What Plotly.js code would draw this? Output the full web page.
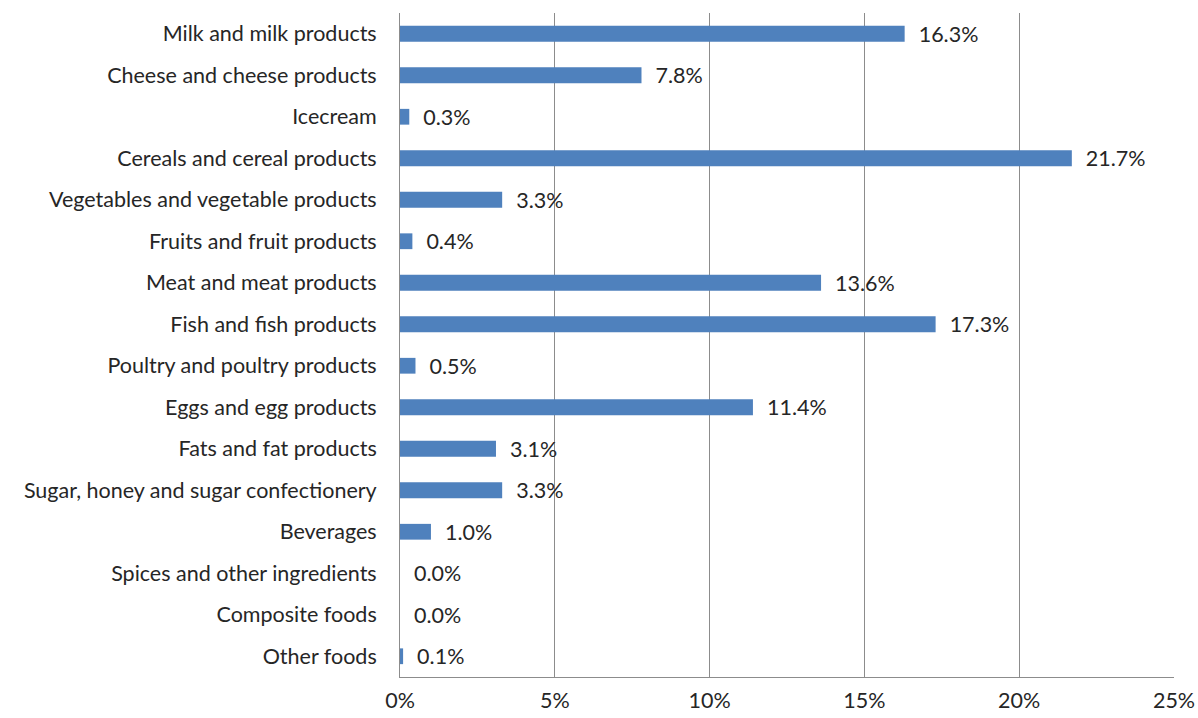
<!DOCTYPE html>
<html>
<head>
<meta charset="utf-8">
<script src="https://cdn.plot.ly/plotly-3.0.1.min.js"></script>
<style>html,body{margin:0;padding:0;background:#fff;}#chart{width:1198px;height:718px;}</style>
</head>
<body>
<div id="chart"></div>
<script>
const categories = [
  "Milk and milk products",
  "Cheese and cheese products",
  "Icecream",
  "Cereals and cereal products",
  "Vegetables and vegetable products",
  "Fruits and fruit products",
  "Meat and meat products",
  "Fish and fish products",
  "Poultry and poultry products",
  "Eggs and egg products",
  "Fats and fat products",
  "Sugar, honey and sugar confectionery",
  "Beverages",
  "Spices and other ingredients",
  "Composite foods",
  "Other foods"
];
const values = [16.3, 7.8, 0.3, 21.7, 3.3, 0.4, 13.6, 17.3, 0.5, 11.4, 3.1, 3.3, 1.0, 0.0, 0.0, 0.1];
const tickVals = [0, 5, 10, 15, 20, 25];
const tickText = ["0%", "5%", "10%", "15%", "20%", "25%"];

const fontFam = "Lato, 'Open Sans', sans-serif";
const fs = 21.5;
const trace = {
  type: "bar",
  orientation: "h",
  y: categories,
  x: values,
  width: 0.38,
  marker: {color: "#4F81BD", line: {width: 0}},
  text: values.map(v => "\u00a0\u00a0" + v.toFixed(1) + "%"),
  textposition: "outside",
  constraintext: "none",
  cliponaxis: false,
  textfont: {family: fontFam, size: fs, color: "#262626"},
  hoverinfo: "skip"
};
const layout = {
  width: 1198, height: 718,
  margin: {l: 400, r: 24, t: 13, b: 41},
  paper_bgcolor: "#fff", plot_bgcolor: "#fff",
  showlegend: false,
  font: {family: fontFam, size: fs, color: "#262626"},
  xaxis: {
    range: [0, 25], tickvals: tickVals, ticktext: tickText,
    showgrid: true, gridcolor: "#8c8c8c", gridwidth: 1,
    zeroline: false, showline: true, linecolor: "#8c8c8c", linewidth: 1,
    ticks: "outside", ticklen: 0, ticklabelstandoff: 4,
    tickfont: {family: fontFam, size: fs, color: "#262626"},
    fixedrange: true
  },
  yaxis: {
    autorange: "reversed", type: "category",
    showgrid: false, zeroline: false, showline: true, linecolor: "#8c8c8c", linewidth: 1,
    ticks: "outside", ticklen: 0, ticklabelstandoff: 18,
    tickfont: {family: fontFam, size: fs, color: "#262626"},
    fixedrange: true
  }
};
Plotly.newPlot("chart", [trace], layout, {displayModeBar: false, staticPlot: true});
</script>
</body>
</html>
